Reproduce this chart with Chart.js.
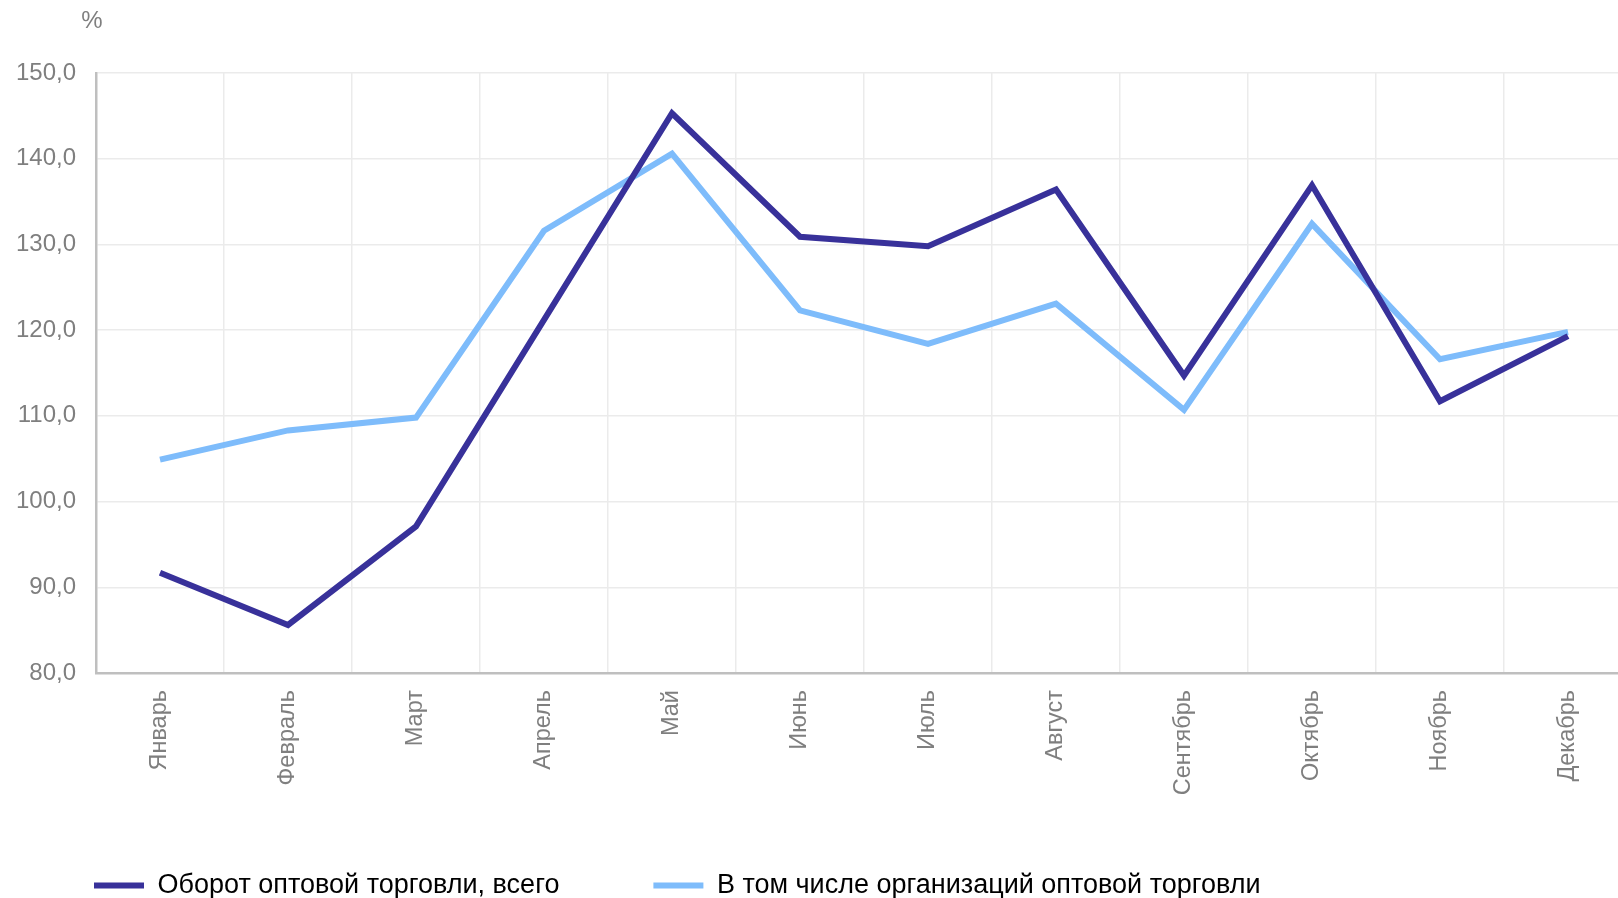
<!DOCTYPE html>
<html>
<head>
<meta charset="utf-8">
<script src="https://cdn.jsdelivr.net/npm/chart.js@4.4.1/dist/chart.umd.min.js"></script>
<style>
  html, body { margin: 0; padding: 0; background: #ffffff; overflow: hidden; }
  #wrap { position: relative; width: 1640px; height: 898px; }
</style>
</head>
<body>
<div id="wrap"><canvas id="c"></canvas></div>
<script>
const categories = ['Январь', 'Февраль', 'Март', 'Апрель', 'Май', 'Июнь', 'Июль', 'Август', 'Сентябрь', 'Октябрь', 'Ноябрь', 'Декабрь'];
const totalTurnover = [91.7, 85.6, 97.1, 121.2, 145.3, 130.9, 129.8, 136.4, 114.7, 136.9, 111.7, 119.3];
const wholesaleOrgs = [104.9, 108.3, 109.8, 131.6, 140.6, 122.3, 118.4, 123.1, 110.7, 132.4, 116.6, 119.8];
const seriesNames = ['Оборот оптовой торговли, всего', 'В том числе организаций оптовой торговли'];
const yTicks = [80, 90, 100, 110, 120, 130, 140, 150];
const unitLabel = '%';

const darkColor = '#38319a';
const lightColor = '#7ebcfb';
const FONT = "Arial, 'Liberation Sans', sans-serif";

const unitPlugin = {
  id: 'unitLabel',
  afterDraw(chart) {
    const ctx = chart.ctx;
    ctx.save();
    ctx.font = '24px ' + FONT;
    ctx.fillStyle = '#7f7f7f';
    ctx.textAlign = 'center';
    ctx.textBaseline = 'middle';
    ctx.fillText(unitLabel, chart.chartArea.left - 4, 21);
    ctx.restore();
  }
};

new Chart(document.getElementById('c'), {
  type: 'line',
  data: {
    labels: categories,
    datasets: [
      {
        label: seriesNames[0],
        data: totalTurnover,
        borderColor: darkColor,
        backgroundColor: darkColor,
        borderWidth: 6,
        pointRadius: 0,
        tension: 0,
        fill: false
      },
      {
        label: seriesNames[1],
        data: wholesaleOrgs,
        borderColor: lightColor,
        backgroundColor: lightColor,
        borderWidth: 6,
        pointRadius: 0,
        tension: 0,
        fill: false
      }
    ]
  },
  options: {
    responsive: true,
    maintainAspectRatio: false,
    animation: false,
    devicePixelRatio: 1,
    layout: { padding: { top: 73, right: 8, left: 0, bottom: 0 } },
    plugins: {
      legend: {
        position: 'bottom',
        align: 'start',
        maxHeight: 120,
        labels: {
          font: { size: 27, family: FONT },
          color: '#000000',
          boxWidth: 50,
          boxHeight: 6,
          useBorderRadius: true,
          borderRadius: 3,
          padding: 94,
          generateLabels(chart) {
            return chart.data.datasets.map((ds, i) => ({
              text: ds.label,
              fillStyle: ds.borderColor,
              strokeStyle: ds.borderColor,
              lineWidth: 0,
              hidden: false,
              datasetIndex: i,
              fontColor: '#000000'
            }));
          }
        }
      },
      tooltip: { enabled: false },
      title: { display: false }
    },
    scales: {
      x: {
        offset: true,
        grid: { offset: true, color: '#ebebeb', lineWidth: 1.5, drawTicks: false },
        border: { color: '#bfbfbf', width: 2.5 },
        ticks: {
          color: '#7f7f7f',
          font: { size: 23.5, family: FONT },
          minRotation: 90,
          maxRotation: 90,
          padding: 17,
          autoSkip: false
        },
        afterFit(scale) {
          scale.height = 105;
          scale._computeLabelArea = () => undefined;
        }
      },
      y: {
        min: 80,
        max: 150,
        afterBuildTicks(scale) { scale.ticks = yTicks.map(v => ({ value: v })); },
        grid: { color: '#ebebeb', lineWidth: 1.5, drawTicks: false },
        border: { color: '#bfbfbf', width: 2.5 },
        ticks: {
          color: '#7f7f7f',
          font: { size: 24, family: FONT },
          padding: 20,
          callback: (v) => v.toFixed(1).replace('.', ',')
        },
        afterFit(scale) { scale.width = 96; }
      }
    }
  },
  plugins: [unitPlugin]
});
</script>
</body>
</html>
